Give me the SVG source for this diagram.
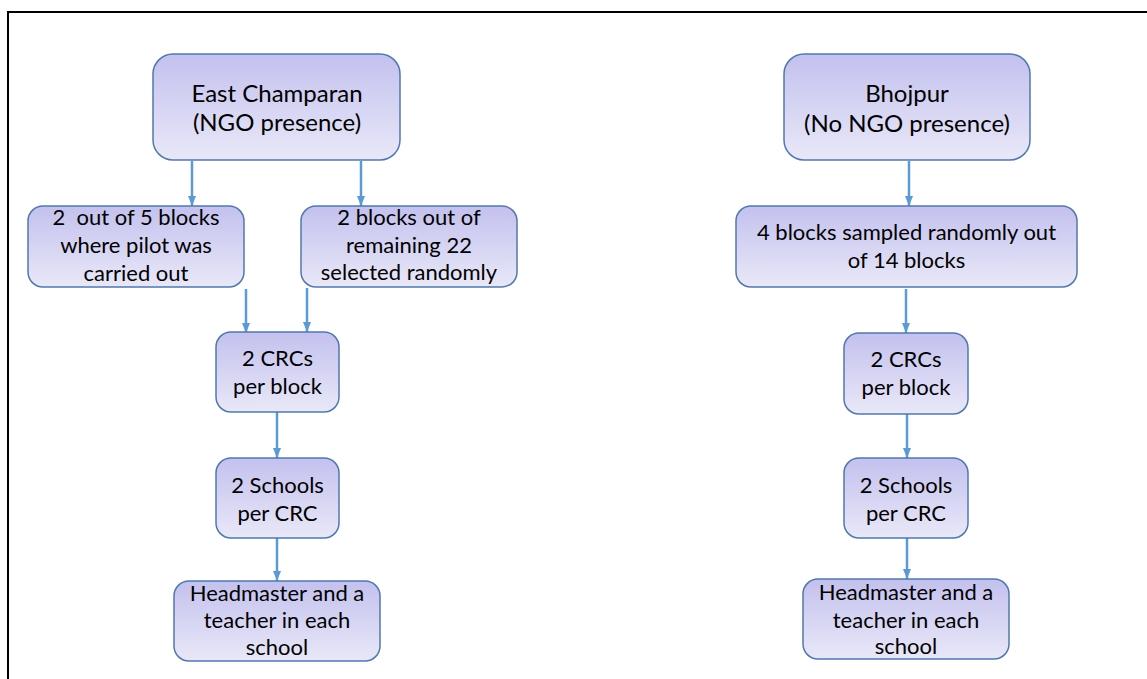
<svg xmlns="http://www.w3.org/2000/svg" width="1147" height="679" viewBox="0 0 1147 679">
<defs>
<linearGradient id="g" x1="0" y1="0" x2="0" y2="1">
<stop offset="0" stop-color="#c3c1ee"/>
<stop offset="1" stop-color="#e9e8f8"/>
</linearGradient>
<marker id="ah" markerWidth="10" markerHeight="8" refX="10" refY="4" orient="auto" markerUnits="userSpaceOnUse">
<path d="M0,0 L10,4 L0,8 Z" fill="#5b9bd5"/>
</marker>
<style>
.box{fill:url(#g);stroke:#5178ad;stroke-width:1.5}
.t{font-family:Lato,"Open Sans",sans-serif;font-size:22px;fill:#000;text-anchor:middle;white-space:pre}
.tl{font-size:24px}
.c{stroke:#5b9bd5;stroke-width:2.5;fill:none;marker-end:url(#ah)}
</style>
</defs>
<rect width="1147" height="679" fill="#fff"/>
<rect x="8" y="12" width="1160" height="700" fill="none" stroke="#000" stroke-width="2"/>
<g id="connectors">
<line class="c" x1="192" y1="161" x2="192" y2="206"/>
<line class="c" x1="361" y1="161" x2="361" y2="206"/>
<line class="c" x1="246" y1="289" x2="246" y2="333"/>
<line class="c" x1="307" y1="288" x2="307" y2="332"/>
<line class="c" x1="277" y1="412" x2="277" y2="458"/>
<line class="c" x1="277" y1="538" x2="277" y2="581"/>
<line class="c" x1="909" y1="161" x2="909" y2="206"/>
<line class="c" x1="906" y1="289" x2="906" y2="333"/>
<line class="c" x1="907" y1="414" x2="907" y2="458"/>
<line class="c" x1="907" y1="538" x2="907" y2="579"/>
</g>
<g id="east">
<rect class="box" x="153" y="54" width="247" height="106" rx="20"/>
<text class="t tl" x="277" y="102">East Champaran</text>
<text class="t tl" x="277" y="131">(NGO presence)</text>
</g>
<g id="pilot">
<rect class="box" x="28" y="206" width="216" height="81" rx="15"/>
<text class="t" x="136" y="225">2  out of 5 blocks</text>
<text class="t" x="136" y="253">where pilot was</text>
<text class="t" x="136" y="281">carried out</text>
</g>
<g id="random">
<rect class="box" x="301" y="206" width="216" height="81" rx="15"/>
<text class="t" x="409" y="225">2 blocks out of</text>
<text class="t" x="409" y="253">remaining 22</text>
<text class="t" x="409" y="280">selected randomly</text>
</g>
<g id="crc-e">
<rect class="box" x="216" y="332" width="123" height="80" rx="15"/>
<text class="t" x="277.5" y="366">2 CRCs</text>
<text class="t" x="277.5" y="394">per block</text>
</g>
<g id="schools-e">
<rect class="box" x="216" y="458" width="123" height="80" rx="15"/>
<text class="t" x="277.5" y="493">2 Schools</text>
<text class="t" x="277.5" y="521">per CRC</text>
</g>
<g id="head-e">
<rect class="box" x="174" y="581" width="206" height="80" rx="15"/>
<text class="t" x="277" y="601">Headmaster and a</text>
<text class="t" x="277" y="628">teacher in each</text>
<text class="t" x="277" y="655">school</text>
</g>
<g id="bhojpur">
<rect class="box" x="784" y="54" width="246" height="106" rx="20"/>
<text class="t tl" x="907" y="102">Bhojpur</text>
<text class="t tl" x="907" y="132">(No NGO presence)</text>
</g>
<g id="blocks-b">
<rect class="box" x="736" y="206" width="341" height="81" rx="15"/>
<text class="t" x="906.5" y="240">4 blocks sampled randomly out</text>
<text class="t" x="906.5" y="268">of 14 blocks</text>
</g>
<g id="crc-b">
<rect class="box" x="844" y="333" width="124" height="81" rx="15"/>
<text class="t" x="906" y="367">2 CRCs</text>
<text class="t" x="906" y="395">per block</text>
</g>
<g id="schools-b">
<rect class="box" x="844" y="458" width="124" height="80" rx="15"/>
<text class="t" x="906" y="493">2 Schools</text>
<text class="t" x="906" y="521">per CRC</text>
</g>
<g id="head-b">
<rect class="box" x="803" y="579" width="206" height="80" rx="15"/>
<text class="t" x="906" y="600">Headmaster and a</text>
<text class="t" x="906" y="628">teacher in each</text>
<text class="t" x="906" y="654">school</text>
</g>
</svg>
